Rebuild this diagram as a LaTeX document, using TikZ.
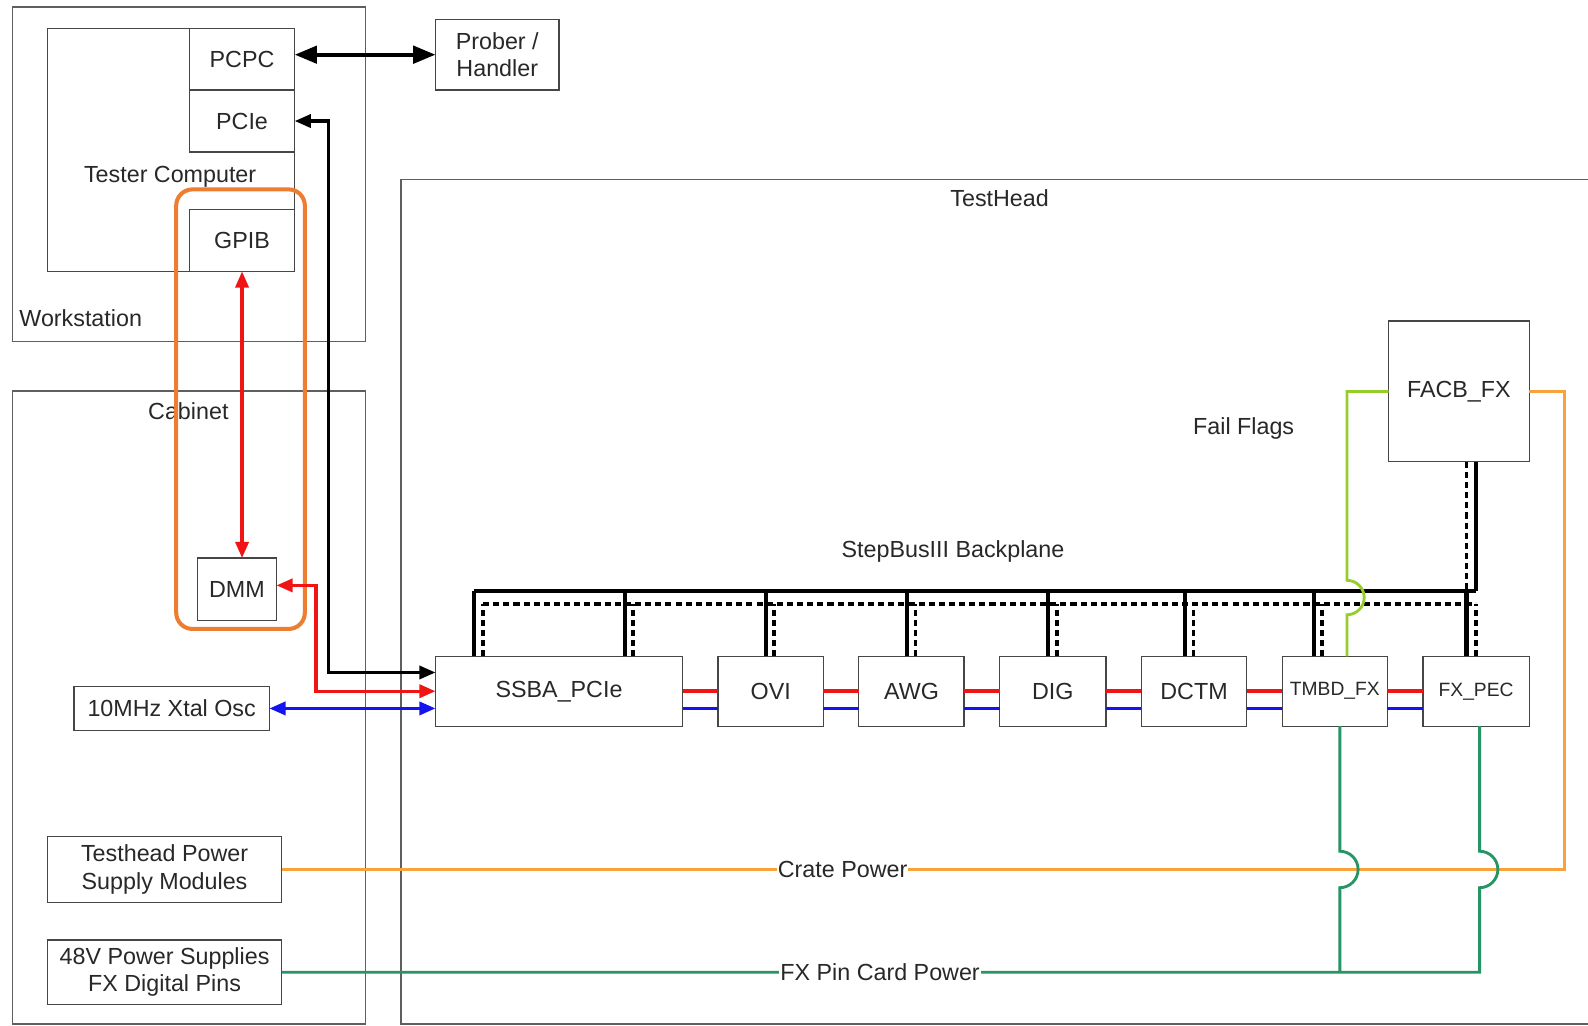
\documentclass[tikz,border=0pt]{standalone}
\usepackage{fontspec}
\setmainfont{Liberation Sans}
\usetikzlibrary{arrows.meta}
\definecolor{boxgray}{RGB}{70,70,70}
\definecolor{txtgray}{RGB}{40,40,40}
\definecolor{cgray}{RGB}{95,95,95}
\definecolor{hlorange}{RGB}{237,125,49}
\definecolor{crateor}{RGB}{247,162,58}
\definecolor{pingreen}{RGB}{38,148,100}
\definecolor{flaggreen}{RGB}{150,205,45}
\definecolor{sigred}{RGB}{240,20,20}
\definecolor{sigblue}{RGB}{20,20,240}
\begin{document}
\begin{tikzpicture}[x=1pt,y=-1pt,
  every node/.style={text=txtgray,font=\fontsize{23}{27}\selectfont},
  blk/.style={draw=boxgray,line width=1.3pt,fill=white,inner sep=0pt,outer sep=0pt,align=center},
  container/.style={draw=cgray,line width=1.2pt,inner sep=0pt,outer sep=0pt},
  lbl/.style={inner sep=0pt},
  onl/.style={fill=white,inner sep=1pt},
  smallfont/.style={font=\fontsize{19}{23}\selectfont},
  bigarr/.style={line width=4pt,{Triangle[length=22pt,width=17pt]}-{Triangle[length=22pt,width=17pt]}},
  blkarr/.style={line width=3.2pt,black,{Triangle[length=16pt,width=13pt]}-{Triangle[length=16pt,width=13pt]}},
  redarr/.style={line width=3.2pt,sigred,{Triangle[length=16pt,width=13pt]}-{Triangle[length=16pt,width=13pt]}},
  bluarr/.style={line width=3.2pt,sigblue,{Triangle[length=16pt,width=13pt]}-{Triangle[length=16pt,width=13pt]}},
  redln/.style={line width=3.5pt,sigred},
  bluln/.style={line width=3.5pt,sigblue},
  bus/.style={line width=4pt,black},
  dbus/.style={line width=3.8pt,black,dash pattern=on 6pt off 4pt},
  flag/.style={line width=2.8pt,flaggreen},
  pin/.style={line width=2.8pt,pingreen},
  crate/.style={line width=3.2pt,crateor}
]
\useasboundingbox (0,0) rectangle (1568,1013);
\fill[white] (0,0) rectangle (1568,1013);
\clip (0,0) rectangle (1568,1013);

% containers
\node[container,minimum width=349pt,minimum height=330pt] (ws) at (186.5,172) {};
\node[container,minimum width=349pt,minimum height=625pt] (cab) at (186.5,698.5) {};
\draw[draw=cgray,line width=1.2pt] (1580,177) -- (396,177) -- (396,1011) -- (1580,1011);
\node[blk,minimum width=244pt,minimum height=240pt] (tc) at (169,148) {};

% labels
\node[lbl] (tcl) at (168,175) {Tester Computer};
\node[lbl,anchor=west] (wsl) at (19,314) {Workstation};
\node[lbl] (cabl) at (186,406) {Cabinet};
\node[lbl] (thl) at (987,196) {TestHead};
\node[lbl] (bpl) at (941,545) {StepBusIII Backplane};
\node[lbl] (ffl) at (1228,423) {Fail Flags};

% boxes
\node[blk,minimum width=104pt,minimum height=61pt] (pcpc) at (239,58.5) {PCPC};
\node[blk,minimum width=104pt,minimum height=61pt] (pcie) at (239,119.5) {PCIe};
\node[blk,minimum width=104pt,minimum height=61pt] (gpib) at (239,237.5) {GPIB};
\node[blk,minimum width=122pt,minimum height=70pt] (prober) at (491,54) {Prober /\\Handler};
\node[blk,minimum width=78pt,minimum height=62pt] (dmm) at (234,582) {DMM};
\node[blk,minimum width=193pt,minimum height=43pt] (xtal) at (169.5,699.5) {10MHz Xtal Osc};
\node[blk,minimum width=231pt,minimum height=65pt] (thp) at (162.5,858.5) {Testhead Power\\Supply Modules};
\node[blk,minimum width=231pt,minimum height=64pt] (v48) at (162.5,960) {48V Power Supplies\\FX Digital Pins};

\node[blk,minimum width=244pt,minimum height=69pt] (ssba) at (552,682.5) {SSBA\_PCIe};
\node[blk,minimum width=104pt,minimum height=69pt] (ovi) at (761,682.5) {OVI};
\node[blk,minimum width=104pt,minimum height=69pt] (awg) at (900,682.5) {AWG};
\node[blk,minimum width=105pt,minimum height=69pt] (dig) at (1039.5,682.5) {DIG};
\node[blk,minimum width=104pt,minimum height=69pt] (dctm) at (1179,682.5) {DCTM};
\node[blk,smallfont,minimum width=104pt,minimum height=69pt] (tmbd) at (1318,682.5) {TMBD\_FX};
\node[blk,smallfont,minimum width=105pt,minimum height=69pt] (fxpec) at (1457.5,682.5) {FX\_PEC};
\node[blk,minimum width=139pt,minimum height=139pt] (facb) at (1440.5,386.5) {FACB\_FX};

% highlight
\node[draw=hlorange,line width=4pt,rounded corners=16pt,minimum width=127pt,minimum height=434pt,inner sep=0pt] (hl) at (237.5,404) {};

% computer links
\draw[bigarr] (prober.west -| pcpc.east) -- (prober.west);
\draw[blkarr] (pcie.east) -- (324,119.5) |- ([yshift=18.5pt]ssba.west);
\draw[redarr] (gpib.south) -- (gpib.south |- dmm.north);
\draw[redarr] ([yshift=4pt]dmm.east) -- (312,578) |- (ssba.west);
\draw[bluarr] (xtal.east) -- (xtal.east -| ssba.west);

% module red/blue links
\foreach \a/\b in {ssba/ovi,ovi/awg,awg/dig,dig/dctm,dctm/tmbd,tmbd/fxpec}{
  \draw[redln] (\a.east) -- (\b.west);
  \draw[bluln] ([yshift=-17pt]\a.east) -- ([yshift=-17pt]\b.west);
}

% backplane
\coordinate (busL) at (468,584);
\coordinate (busR) at (1457,584);
\coordinate (dbusL) at (477,596);
\coordinate (dbusR) at (1457,596);
\draw[bus] (busL) -- (busR);
\draw[dbus] (dbusL) -- (dbusR);
\foreach \n/\s/\d in {ssba/-84/-75,ssba/65/73,ovi/-5/3,awg/-4/4,dig/-4.5/4,dctm/-9/-0.5,tmbd/-21/-13,fxpec/-9.5/-0.5}{
  \draw[bus] ([xshift=\s pt]\n.north) -- ++(0,-64);
  \draw[dbus] ([xshift=\d pt]\n.north) -- ++(0,-52);
}
\draw[bus] ([xshift=16.5pt]facb.south) -- (busR);
\draw[dbus] ([xshift=7.5pt]facb.south) -- ++(0,140);

% fail flags
\draw[flag] (facb.west) -- (1330,386.5) -- (1330,573)
  .. controls (1339.4,573) and (1347,580.6) .. (1347,590)
  .. controls (1347,599.4) and (1339.4,607) .. (1330,607)
  -- ([xshift=12pt]tmbd.north);

% crate power
\draw[crate] (thp.east) -- (1545,858.5) |- (facb.east);
\node[onl] (cpl) at (832,859) {Crate Power};

% FX pin card power
\coordinate (j1) at (1323,960);
\draw[pin] (v48.east) -- (1461,960) -- (1461,876.5)
  .. controls (1470.9,876.5) and (1479,868.4) .. (1479,858.5)
  .. controls (1479,848.6) and (1470.9,840.5) .. (1461,840.5)
  -- ([xshift=3.5pt]fxpec.south);
\draw[pin] (j1) -- (1323,876.5)
  .. controls (1332.9,876.5) and (1341,868.4) .. (1341,858.5)
  .. controls (1341,848.6) and (1332.9,840.5) .. (1323,840.5)
  -- ([xshift=5pt]tmbd.south);
\node[onl] (fxl) at (869,960) {FX Pin Card Power};
\end{tikzpicture}
\end{document}
